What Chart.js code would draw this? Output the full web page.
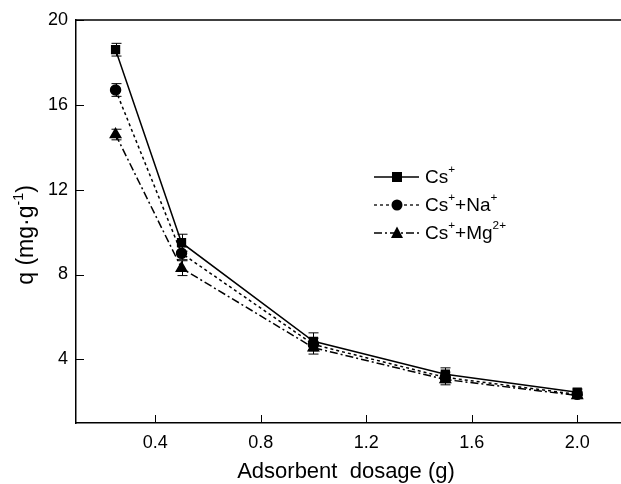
<!DOCTYPE html>
<html>
<head>
<meta charset="utf-8">
<script src="https://cdn.jsdelivr.net/npm/chart.js@4.4.0/dist/chart.umd.min.js"></script>
<style>
    html, body { margin: 0; padding: 0; background: #fff; overflow: hidden; }
    #wrap { width: 640px; height: 484px; }
</style>
</head>
<body>
<div id="wrap"><canvas id="chart" width="640" height="484"></canvas></div>
<script>
// データ
const dosage = [0.25, 0.5, 1.0, 1.5, 2.0];
const qCs = [18.6, 9.5, 4.85, 3.3, 2.45];
const qCsNa = [16.7, 9.0, 4.7, 3.15, 2.35];
const qCsMg = [14.6, 8.3, 4.55, 3.05, 2.3];
const errCs = [0.3, 0.4, 0.4, 0.3, 0.15];
const errCsNa = [0.3, 0.3, 0.3, 0.25, 0.15];
const errCsMg = [0.25, 0.35, 0.3, 0.25, 0.15];
const xTicks = [0.4, 0.8, 1.2, 1.6, 2.0];
const yTicks = [4, 8, 12, 16, 20];

const FONT = '"Liberation Sans", Arial, sans-serif';

const toPoints = (xs, ys) => xs.map((x, i) => ({ x: x, y: ys[i] }));

// 上付き文字つきテキストを描画
function drawRich(ctx, parts, x, y, size) {
    let cx = x;
    parts.forEach(p => {
        const s = p.sup ? size * 0.62 : size;
        ctx.font = s + 'px ' + FONT;
        ctx.fillText(p.t, cx, p.sup ? y - size * 0.45 : y);
        cx += ctx.measureText(p.t).width;
    });
    return cx - x;
}
function richWidth(ctx, parts, size) {
    let w = 0;
    parts.forEach(p => {
        ctx.font = (p.sup ? size * 0.62 : size) + 'px ' + FONT;
        w += ctx.measureText(p.t).width;
    });
    return w;
}

const legendItems = [
    { parts: [{ t: 'Cs' }, { t: '+', sup: true }], dash: [], style: 'rect' },
    { parts: [{ t: 'Cs' }, { t: '+', sup: true }, { t: '+Na' }, { t: '+', sup: true }], dash: [3, 3], style: 'circle' },
    { parts: [{ t: 'Cs' }, { t: '+', sup: true }, { t: '+Mg' }, { t: '2+', sup: true }], dash: [8, 3, 2, 3], style: 'triangle' }
];

function drawMarker(ctx, style, x, y) {
    ctx.beginPath();
    if (style === 'rect') {
        ctx.rect(x - 5, y - 5, 10, 10);
    } else if (style === 'circle') {
        ctx.arc(x, y, 5.5, 0, Math.PI * 2);
    } else {
        ctx.moveTo(x, y - 6.5);
        ctx.lineTo(x + 6, y + 5);
        ctx.lineTo(x - 6, y + 5);
        ctx.closePath();
    }
    ctx.fill();
}

const customPlugin = {
    id: 'custom',
    beforeDatasetsDraw(chart) {
        // エラーバー
        const ctx = chart.ctx;
        const ys = chart.scales.y;
        const errs = [errCs, errCsNa, errCsMg];
        ctx.save();
        ctx.strokeStyle = '#000';
        ctx.lineWidth = 1;
        chart.data.datasets.forEach((ds, di) => {
            const meta = chart.getDatasetMeta(di);
            meta.data.forEach((pt, i) => {
                const v = ds.data[i].y;
                const e = errs[di][i];
                const x = Math.round(pt.x) + 0.5;
                const y1 = ys.getPixelForValue(v + e);
                const y2 = ys.getPixelForValue(v - e);
                ctx.beginPath();
                ctx.moveTo(x, y1); ctx.lineTo(x, y2);
                ctx.moveTo(x - 5, y1); ctx.lineTo(x + 5, y1);
                ctx.moveTo(x - 5, y2); ctx.lineTo(x + 5, y2);
                ctx.stroke();
            });
        });
        ctx.restore();
    },
    afterDraw(chart) {
        const ctx = chart.ctx;
        const a = chart.chartArea;
        const xs = chart.scales.x;
        const ys = chart.scales.y;
        ctx.save();
        ctx.strokeStyle = '#000';
        ctx.fillStyle = '#000';
        ctx.lineWidth = 1.5;

        // 上枠
        ctx.beginPath();
        ctx.moveTo(a.left, a.top);
        ctx.lineTo(a.right, a.top);
        ctx.stroke();

        // 内向きの目盛り
        ctx.lineWidth = 1;
        xTicks.forEach(v => {
            const x = Math.round(xs.getPixelForValue(v)) + 0.5;
            ctx.beginPath();
            ctx.moveTo(x, a.bottom);
            ctx.lineTo(x, a.bottom - 8);
            ctx.stroke();
        });
        yTicks.forEach(v => {
            const y = Math.round(ys.getPixelForValue(v)) + 0.5;
            ctx.beginPath();
            ctx.moveTo(a.left, y);
            ctx.lineTo(a.left + 8, y);
            ctx.stroke();
        });

        // 軸タイトル
        ctx.textBaseline = 'alphabetic';
        ctx.textAlign = 'left';
        ctx.font = '22px ' + FONT;
        const xTitle = 'Adsorbent  dosage (g)';
        const xw = ctx.measureText(xTitle).width;
        ctx.fillText(xTitle, 346 - xw / 2, 478);

        const yParts = [{ t: 'q (mg\u00b7g' }, { t: '-1', sup: true }, { t: ')' }];
        const yw = richWidth(ctx, yParts, 23);
        ctx.save();
        ctx.translate(33, 235);
        ctx.rotate(-Math.PI / 2);
        drawRich(ctx, yParts, -yw / 2, 0, 23);
        ctx.restore();

        // 凡例
        const rows = [177, 205, 233];
        legendItems.forEach((item, i) => {
            const y = rows[i];
            ctx.lineWidth = 1.3;
            ctx.setLineDash(item.dash);
            ctx.beginPath();
            ctx.moveTo(374, y);
            ctx.lineTo(419, y);
            ctx.stroke();
            ctx.setLineDash([]);
            drawMarker(ctx, item.style, 397, y);
            ctx.textBaseline = 'middle';
            drawRich(ctx, item.parts, 425, y + 1, 19);
        });
        ctx.restore();
    }
};

const ctx = document.getElementById('chart');
new Chart(ctx, {
    type: 'line',
    data: {
        datasets: [
            {
                label: 'Cs+',
                data: toPoints(dosage, qCs),
                borderColor: '#000',
                backgroundColor: '#000',
                borderWidth: 1.5,
                pointStyle: 'rect',
                pointRadius: 5.5,
                tension: 0
            },
            {
                label: 'Cs+ + Na+',
                data: toPoints(dosage, qCsNa),
                borderColor: '#000',
                backgroundColor: '#000',
                borderWidth: 1.5,
                borderDash: [3, 3],
                pointStyle: 'circle',
                pointRadius: 5,
                tension: 0
            },
            {
                label: 'Cs+ + Mg2+',
                data: toPoints(dosage, qCsMg),
                borderColor: '#000',
                backgroundColor: '#000',
                borderWidth: 1.5,
                borderDash: [8, 3, 2, 3],
                pointStyle: 'triangle',
                pointRadius: 6,
                tension: 0
            }
        ]
    },
    options: {
        responsive: false,
        animation: false,
        layout: { padding: { top: 20, right: 10, left: 0, bottom: 0 } },
        plugins: {
            legend: { display: false },
            tooltip: { enabled: false }
        },
        scales: {
            x: {
                type: 'linear',
                min: 0.1,
                max: 2.2,
                afterBuildTicks: s => { s.ticks = xTicks.map(v => ({ value: v })); },
                afterFit: s => { s.height = 61; },
                grid: { display: false, drawTicks: false },
                border: { display: true, color: '#000', width: 1.5 },
                ticks: {
                    color: '#000',
                    padding: 9,
                    font: { family: FONT, size: 18 },
                    callback: v => v.toFixed(1)
                }
            },
            y: {
                type: 'linear',
                min: 1,
                max: 20,
                afterBuildTicks: s => { s.ticks = yTicks.map(v => ({ value: v })); },
                afterFit: s => { s.width = 76; },
                grid: { display: false, drawTicks: false },
                border: { display: true, color: '#000', width: 1.5 },
                ticks: {
                    color: '#000',
                    padding: 8,
                    font: { family: FONT, size: 18 },
                    callback: v => String(v)
                }
            }
        }
    },
    plugins: [customPlugin]
});
</script>
</body>
</html>
